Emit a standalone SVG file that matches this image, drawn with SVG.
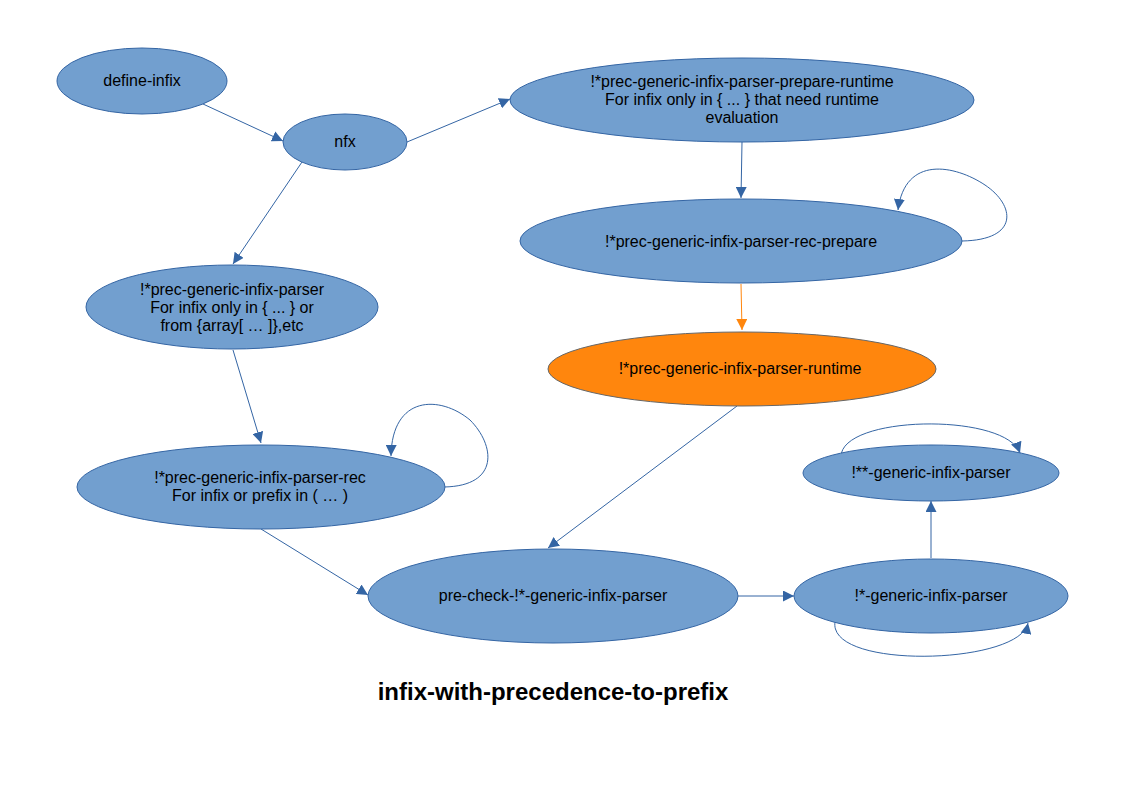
<svg xmlns="http://www.w3.org/2000/svg" width="1123" height="794" viewBox="0 0 1123 794">
  <style>
    .node { fill: #729fcf; stroke: #3465a4; stroke-width: 1; }
    .hot { fill: #ff860d; stroke: #666666; stroke-width: 1; }
    .lbl { font-family: "Liberation Sans", Arial, sans-serif; font-size: 16px; fill: #000; text-anchor: middle; }
    .edge { fill: none; stroke: #3465a4; stroke-width: 1; marker-end: url(#arr); }
    .edge-hot { fill: none; stroke: #ff860d; stroke-width: 1; marker-end: url(#arrHot); }
    .title { font-family: "Liberation Sans", Arial, sans-serif; font-size: 24px; font-weight: bold; fill: #000; text-anchor: middle; }
  </style>
  <defs>
    <marker id="arr" viewBox="0 0 10 10" refX="10" refY="5" markerWidth="11" markerHeight="11" markerUnits="userSpaceOnUse" orient="auto">
      <path d="M0,0 L10,5 L0,10 Z" fill="#3465a4"/>
    </marker>
    <marker id="arrHot" viewBox="0 0 10 10" refX="10" refY="5" markerWidth="11" markerHeight="11" markerUnits="userSpaceOnUse" orient="auto">
      <path d="M0,0 L10,5 L0,10 Z" fill="#ff860d"/>
    </marker>
  </defs>
  <rect width="1123" height="794" fill="#ffffff"/>

  <g id="connectors">
    <path class="edge" d="M203,104 L283,141"/>
    <path class="edge" d="M407,142 L510,99"/>
    <path class="edge" d="M302,162 L233,264"/>
    <path class="edge" d="M742,142 L741,198"/>
    <path class="edge" d="M962,241 C1020,240 1015,205 985,185 C955,165 905,155 898,210"/>
    <path class="edge-hot" d="M741,284 L742,330"/>
    <path class="edge" d="M233,350 L261,443"/>
    <path class="edge" d="M444,487 C500,486 495,445 470,420 C440,395 392,395 391,456"/>
    <path class="edge" d="M737,406 L548,548"/>
    <path class="edge" d="M261,529 L368,595"/>
    <path class="edge" d="M738,596 L794,596"/>
    <path class="edge" d="M931,558 L931,501"/>
    <path class="edge" d="M841,458 C838,415 1005,412 1020,453"/>
    <path class="edge" d="M835,622 C828,670 1020,665 1028,623"/>
  </g>

  <g id="define-infix">
    <ellipse class="node" cx="142" cy="81" rx="85" ry="33"/>
    <text class="lbl" x="142" y="86">define-infix</text>
  </g>
  <g id="nfx">
    <ellipse class="node" cx="345" cy="142" rx="62" ry="28"/>
    <text class="lbl" x="345" y="147">nfx</text>
  </g>
  <g id="prepare-runtime">
    <ellipse class="node" cx="742" cy="100" rx="232" ry="42"/>
    <text class="lbl" x="742" y="87">!*prec-generic-infix-parser-prepare-runtime</text>
    <text class="lbl" x="742" y="105">For infix only in { ... } that need runtime</text>
    <text class="lbl" x="742" y="123">evaluation</text>
  </g>
  <g id="rec-prepare">
    <ellipse class="node" cx="741" cy="241" rx="221" ry="42"/>
    <text class="lbl" x="741" y="247">!*prec-generic-infix-parser-rec-prepare</text>
  </g>
  <g id="parser">
    <ellipse class="node" cx="232" cy="307" rx="146" ry="42"/>
    <text class="lbl" x="232" y="295">!*prec-generic-infix-parser</text>
    <text class="lbl" x="232" y="313">For infix only in { ... } or</text>
    <text class="lbl" x="232" y="331">from {array[ … ]},etc</text>
  </g>
  <g id="runtime">
    <ellipse class="hot" cx="742" cy="369" rx="194" ry="37"/>
    <text class="lbl" x="740" y="374">!*prec-generic-infix-parser-runtime</text>
  </g>
  <g id="parser-rec">
    <ellipse class="node" cx="261" cy="487" rx="184" ry="42"/>
    <text class="lbl" x="260" y="483">!*prec-generic-infix-parser-rec</text>
    <text class="lbl" x="260" y="501">For infix or prefix in ( … )</text>
  </g>
  <g id="double-star-parser">
    <ellipse class="node" cx="931" cy="473" rx="128" ry="28"/>
    <text class="lbl" x="931" y="478">!**-generic-infix-parser</text>
  </g>
  <g id="pre-check">
    <ellipse class="node" cx="553" cy="596" rx="185" ry="47"/>
    <text class="lbl" x="553" y="601">pre-check-!*-generic-infix-parser</text>
  </g>
  <g id="star-parser">
    <ellipse class="node" cx="931" cy="596" rx="137" ry="37"/>
    <text class="lbl" x="931" y="601">!*-generic-infix-parser</text>
  </g>

  <text class="title" x="553" y="700">infix-with-precedence-to-prefix</text>
</svg>
